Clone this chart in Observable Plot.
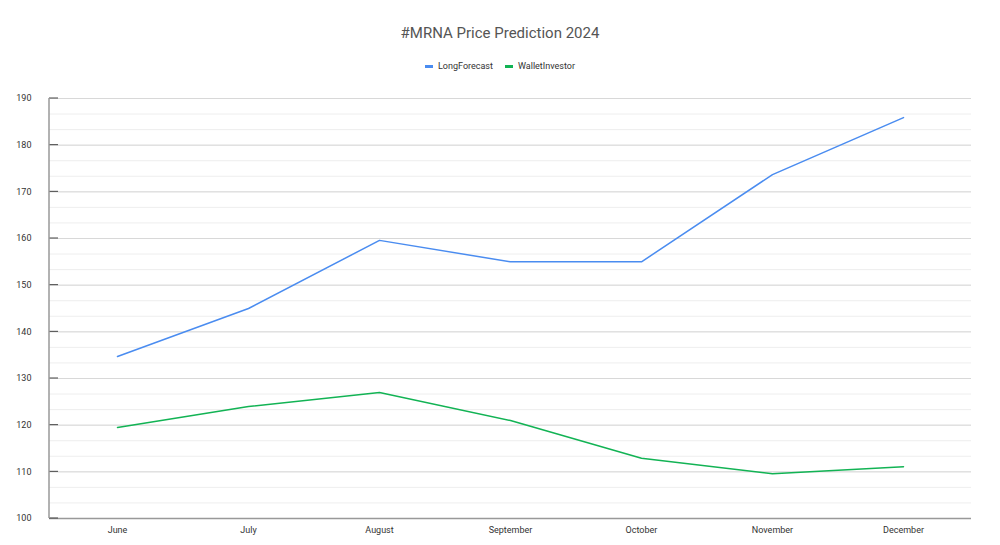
<!DOCTYPE html>
<html><head><meta charset="utf-8">
<script src="https://cdn.jsdelivr.net/npm/d3@7"></script>
<script src="https://cdn.jsdelivr.net/npm/@observablehq/plot@0.6"></script>
<style>
body{margin:0;background:#fff;font-family:Roboto,Arial,sans-serif;}
#title{position:absolute;top:24px;width:1000px;text-align:center;font-size:15px;color:#555;}
#legend{position:absolute;top:61px;width:1000px;text-align:center;font-size:9px;color:#333;}
#legend span{display:inline-block;margin:0 6px;}
#legend i{display:inline-block;width:8px;height:3px;vertical-align:middle;margin-right:5px;}
#chart{position:absolute;top:85px;left:0;}
</style></head><body>
<div id="title">#MRNA Price Prediction 2024</div>
<div id="legend"><span><i style="background:#4a8cf0"></i>LongForecast</span><span><i style="background:#12b354"></i>WalletInvestor</span></div>
<div id="chart"></div>
<script>
const months = ["June","July","August","September","October","November","December"];
const longForecast = [134.7,145,159.6,155,155,173.7,185.9];
const walletInvestor = [119.5,124,127,121,112.9,109.6,111.1];
const yTicks = [100,110,120,130,140,150,160,170,180,190];
const minorTicks = d3.range(100,190.01,10/3);
const rows = [];
months.forEach((m,i)=>{rows.push({m,v:longForecast[i],s:"LongForecast"});rows.push({m,v:walletInvestor[i],s:"WalletInvestor"});});
const plot = Plot.plot({
  width:1000,height:460,marginTop:13,marginBottom:27,marginLeft:49,marginRight:29,
  style:{fontFamily:"Roboto,Arial,sans-serif",fontSize:"9px",color:"#333"},
  x:{type:"point",domain:months,padding:0.5,label:null,tickSize:0,tickPadding:8},
  y:{domain:[100,190],ticks:yTicks,label:null,tickSize:0,tickPadding:18},
  color:{domain:["LongForecast","WalletInvestor"],range:["#4a8cf0","#12b354"]},
  marks:[
    Plot.ruleY(minorTicks,{stroke:"#eee"}),
    Plot.ruleY(yTicks,{stroke:"#d8d8d8"}),
    Plot.ruleY([100],{stroke:"#999",strokeWidth:1.5}),
    Plot.line(rows,{x:"m",y:"v",stroke:"s",strokeWidth:1.5})
  ]
});
document.getElementById("chart").append(plot);
const svg = d3.select(plot);
const ys = plot.scale("y");
svg.append("g").selectAll("line").data(yTicks).join("line")
  .attr("x1",49).attr("x2",58).attr("y1",d=>ys.apply(d)).attr("y2",d=>ys.apply(d))
  .attr("stroke","#444");
svg.append("line").attr("x1",49).attr("x2",49).attr("y1",13).attr("y2",433).attr("stroke","#999").attr("stroke-width",1.5);
</script></body></html>
